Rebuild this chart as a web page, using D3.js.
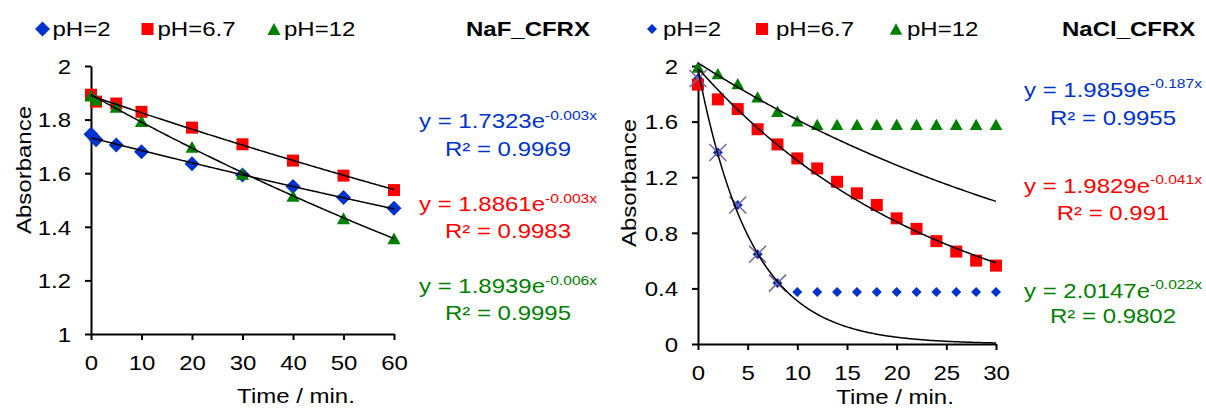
<!DOCTYPE html>
<html>
<head>
<meta charset="utf-8">
<script src="https://cdn.jsdelivr.net/npm/d3@7"></script>
<style>
  body { margin: 0; background: #fff; }
  text { font-family: "Liberation Sans", Arial, sans-serif; }
</style>
</head>
<body>
<svg id="chart" width="1206" height="409"></svg>
<script>
// ---- data ----
var seriesNames = ["pH=2", "pH=6.7", "pH=12"];
var seriesColors = ["#0033CC", "#FF0000", "#008000"];

// NaF_CFRX
var nafTime = [0, 1, 5, 10, 20, 30, 40, 50, 60];
var nafPH2  = [1.745, 1.725, 1.705, 1.680, 1.635, 1.593, 1.550, 1.509, 1.469];
var nafPH67 = [1.893, 1.867, 1.860, 1.829, 1.770, 1.708, 1.647, 1.591, 1.537];
var nafPH12 = [1.890, 1.875, 1.848, 1.795, 1.698, 1.598, 1.516, 1.432, 1.357];
var nafFitCount = [9, 9, 9];
var nafEqCoef = ["1.7323", "1.8861", "1.8939"];
var nafEqExp  = ["-0.003x", "-0.003x", "-0.006x"];
var nafR2     = ["0.9969", "0.9983", "0.9995"];
var nafXTicks = [0, 10, 20, 30, 40, 50, 60];
var nafYTicks = [1, 1.2, 1.4, 1.6, 1.8, 2];

// NaCl_CFRX
var naclTime = [0, 2, 4, 6, 8, 10, 12, 14, 16, 18, 20, 22, 24, 26, 28, 30];
var naclPH2  = [1.910, 1.378, 1.000, 0.646, 0.438, 0.375, 0.375, 0.375, 0.375, 0.375, 0.375, 0.375, 0.375, 0.375, 0.375, 0.375];
var naclPH67 = [1.866, 1.760, 1.690, 1.545, 1.436, 1.335, 1.263, 1.167, 1.084, 1.000, 0.904, 0.828, 0.740, 0.665, 0.600, 0.564];
var naclPH12 = [1.993, 1.945, 1.873, 1.778, 1.675, 1.605, 1.580, 1.580, 1.580, 1.580, 1.580, 1.580, 1.580, 1.580, 1.580, 1.580];
var naclFitCount = [5, 16, 6];
var naclEqCoef = ["1.9859", "1.9829", "2.0147"];
var naclEqExp  = ["-0.187x", "-0.041x", "-0.022x"];
var naclR2     = ["0.9955", "0.991", "0.9802"];
var naclXTicks = [0, 5, 10, 15, 20, 25, 30];
var naclYTicks = [0, 0.4, 0.8, 1.2, 1.6, 2];

var SX = 1.2; // text in the picture is drawn wider than normal

var svg = d3.select("#chart");

function markerPath(type, s) {
  var h = s / 2;
  if (type === "diamond") return "M0," + (-h) + "L" + h + ",0L0," + h + "L" + (-h) + ",0Z";
  if (type === "square") return "M" + (-h) + "," + (-h) + "h" + s + "v" + s + "h" + (-s) + "Z";
  if (type === "triangle") return "M0," + (-h * 0.95) + "L" + (h * 1.05) + "," + (h * 0.95) + "L" + (-h * 1.05) + "," + (h * 0.95) + "Z";
  return "M" + (-h) + "," + (-h) + "L" + h + "," + h + "M" + (-h) + "," + h + "L" + h + "," + (-h);
}

function expFit(xs, ys) {
  var ly = ys.map(Math.log);
  var mx = d3.mean(xs), my = d3.mean(ly);
  var sxy = 0, sxx = 0;
  xs.forEach(function(x, i) { sxy += (x - mx) * (ly[i] - my); sxx += (x - mx) * (x - mx); });
  var b = sxy / sxx;
  return { a: Math.exp(my - b * mx), b: b };
}

function drawChart(c) {
  var x = d3.scaleLinear().domain(c.xDomain).range(c.xRange);
  var y = d3.scaleLinear().domain(c.yDomain).range(c.yRange);
  var g = svg.append("g");

  // axes
  var yAxis = d3.axisLeft(y).tickValues(c.yTicks).tickFormat(d3.format("~g")).tickSize(6).tickSizeOuter(0);
  var xAxis = d3.axisBottom(x).tickValues(c.xTicks).tickFormat(d3.format("d")).tickSize(6).tickSizeOuter(0);

  var gy = g.append("g").attr("transform", "translate(" + c.xRange[0] + ",0)").call(yAxis);
  gy.selectAll("text").attr("x", -20).attr("dy", "0.36em");
  var gx = g.append("g").attr("transform", "translate(0," + c.yRange[0] + ")").call(xAxis);
  gx.selectAll("text").attr("y", 36).attr("dy", 0);
  g.selectAll(".domain, .tick line").attr("stroke", "#000").attr("stroke-width", 2);
  g.selectAll(".tick text").attr("font-size", 20).attr("fill", "#000")
    .attr("font-family", '"Liberation Sans", Arial, sans-serif');

  // markers
  c.series.forEach(function(s, i) {
    g.append("g").selectAll("path")
      .data(c.time.map(function(t, j) { return [t, s[j]]; }))
      .enter().append("path")
        .attr("d", markerPath(c.markers[i], c.markerSize[i]))
        .attr("transform", function(d) { return "translate(" + x(d[0]) + "," + y(d[1]) + ")"; })
        .attr("fill", seriesColors[i]);
  });

  // crosses over the points used for a fit
  if (c.crosses) {
    g.append("g").selectAll("path")
      .data(c.time.slice(0, c.crosses.count).map(function(t, j) { return [t, c.series[c.crosses.series][j]]; }))
      .enter().append("path")
        .attr("d", markerPath("cross", 17))
        .attr("transform", function(d) { return "translate(" + x(d[0]) + "," + y(d[1]) + ")"; })
        .attr("fill", "none")
        .attr("stroke", "#8064A2")
        .attr("stroke-width", 1.6);
  }

  // exponential trendlines
  var line = d3.line().x(function(d) { return x(d[0]); }).y(function(d) { return y(d[1]); });
  c.series.forEach(function(s, i) {
    var n = c.fitCount[i];
    var f = expFit(c.time.slice(0, n), s.slice(0, n));
    var pts = d3.range(0, c.xDomain[1] + 0.001, c.xDomain[1] / 200).map(function(t) { return [t, f.a * Math.exp(f.b * t)]; });
    g.append("path").attr("d", line(pts)).attr("fill", "none").attr("stroke", "#000").attr("stroke-width", 1.5);
  });

  // axis titles
  g.append("text").attr("class", "st").attr("x", c.xTitle[0]).attr("y", c.xTitle[1])
    .attr("text-anchor", "middle").attr("font-size", 20).text("Time / min.");
  g.append("text").attr("class", "st")
    .attr("transform", "translate(" + c.yTitle[0] + "," + c.yTitle[1] + ") rotate(-90)")
    .attr("text-anchor", "middle").attr("font-size", 20).text("Absorbance");

  // legend
  seriesNames.forEach(function(name, i) {
    var lx = c.legend[i];
    g.append("path").attr("d", markerPath(c.markers[i], c.legendSize[i]))
      .attr("transform", "translate(" + lx + "," + 29 + ")").attr("fill", seriesColors[i]);
    g.append("text").attr("class", "st").attr("x", lx + c.legendGap[i]).attr("y", 36)
      .attr("font-size", 20).text(name);
  });
  g.append("text").attr("class", "st").attr("x", c.titleX).attr("y", 36)
    .attr("font-size", 20).attr("font-weight", "bold").text(c.title);

  // equations
  c.eqCoef.forEach(function(coef, i) {
    var t = g.append("text").attr("class", "st").attr("x", c.eqX).attr("y", c.eqY[i])
      .attr("text-anchor", "middle").attr("font-size", 20).attr("fill", seriesColors[i]);
    t.append("tspan").text("y = " + coef + "e");
    t.append("tspan").attr("font-size", 13).attr("dy", -8.5).text(c.eqExp[i]);
    g.append("text").attr("class", "st").attr("x", c.eqX).attr("y", c.r2Y[i])
      .attr("text-anchor", "middle").attr("font-size", 20).attr("fill", seriesColors[i])
      .text("R² = " + c.r2[i]);
  });
}

drawChart({
  time: nafTime, series: [nafPH2, nafPH67, nafPH12], fitCount: nafFitCount,
  xDomain: [0, 60], yDomain: [1, 2], xRange: [91, 394], yRange: [334, 66],
  xTicks: nafXTicks, yTicks: nafYTicks,
  markers: ["diamond", "square", "triangle"], markerSize: [15, 12, 12.5],
  xTitle: [296, 403], yTitle: [31, 170],
  legend: [42.5, 147.5, 274], legendSize: [15, 12, 12.5], legendGap: [10, 10, 10],
  title: "NaF_CFRX", titleX: 466,
  eqCoef: nafEqCoef, eqExp: nafEqExp, r2: nafR2, eqX: 508,
  eqY: [128.5, 211.5, 293.5], r2Y: [156.5, 238.5, 320]
});

drawChart({
  time: naclTime, series: [naclPH2, naclPH67, naclPH12], fitCount: naclFitCount,
  xDomain: [0, 30], yDomain: [0, 2], xRange: [698, 996], yRange: [344, 66],
  xTicks: naclXTicks, yTicks: naclYTicks,
  markers: ["diamond", "square", "triangle"], markerSize: [10, 12, 12],
  crosses: { series: 0, count: 5 },
  xTitle: [895, 404], yTitle: [636, 183],
  legend: [652, 762, 896], legendSize: [10, 12, 12], legendGap: [11, 14, 11],
  title: "NaCl_CFRX", titleX: 1062,
  eqCoef: naclEqCoef, eqExp: naclEqExp, r2: naclR2, eqX: 1113,
  eqY: [97, 193, 298], r2Y: [125, 220, 323]
});

// widen every text about its anchor point
svg.selectAll("text").each(function() {
  var t = d3.select(this);
  var ax = +t.attr("x") || 0, ay = +t.attr("y") || 0;
  var prev = t.attr("transform") || "";
  t.attr("transform", prev + " translate(" + ax + "," + ay + ") scale(" + SX + ",1) translate(" + (-ax) + "," + (-ay) + ")");
});
</script>
</body>
</html>
